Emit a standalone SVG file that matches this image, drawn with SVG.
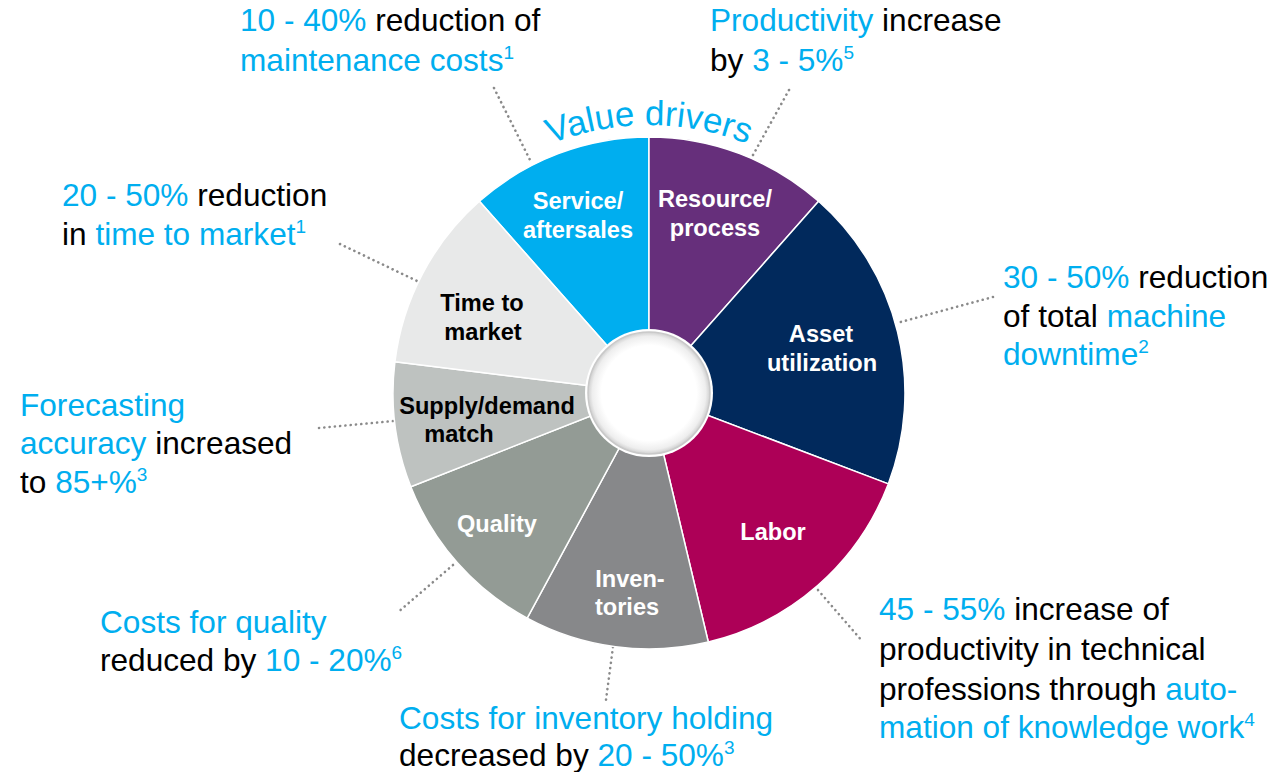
<svg xmlns="http://www.w3.org/2000/svg" width="1278" height="772" viewBox="0 0 1278 772">
<defs>
<style>
.ann{font-family:"Liberation Sans",Arial,sans-serif;font-size:31.6px;fill:#000}
.b{fill:#00AEEF}
.sup{font-size:19px}
.lbl{font-family:"Liberation Sans",Arial,sans-serif;font-size:23.6px;font-weight:bold;text-anchor:middle}
.w{fill:#fff}
.k{fill:#000}
.seg{stroke:#fff;stroke-width:1.5;stroke-linejoin:round}
.dot{stroke:#8a8a8a;stroke-width:2.6;stroke-linecap:round;stroke-dasharray:0.1 5.2;fill:none}
</style>
<radialGradient id="hole" cx="50%" cy="50%" r="50%">
<stop offset="0.78" stop-color="#ffffff"/>
<stop offset="0.93" stop-color="#eeeeee"/>
<stop offset="1" stop-color="#cfcfcf"/>
</radialGradient>
<path id="arcText" d="M 417 259 A 268 268 0 0 1 881 259"/>
</defs>
<rect width="1278" height="772" fill="#fff"/>

<g id="connectors">
<line class="dot" x1="494" y1="88" x2="531" y2="162"/>
<line class="dot" x1="789" y1="90" x2="753" y2="155"/>
<line class="dot" x1="340" y1="244" x2="417" y2="281"/>
<line class="dot" x1="993" y1="297" x2="897" y2="323"/>
<line class="dot" x1="319" y1="428" x2="393" y2="421"/>
<line class="dot" x1="453" y1="565" x2="397" y2="613"/>
<line class="dot" x1="613" y1="647" x2="606" y2="700"/>
<line class="dot" x1="818" y1="590" x2="863" y2="642"/>
</g>

<g id="seg-service"><path class="seg" fill="#00AEEF" d="M649 393 L479.4 201.3 A256 256 0 0 1 649 137 Z"/>
<text class="lbl w" x="578" y="209">Service/</text><text class="lbl w" x="578" y="238">aftersales</text></g>
<g id="seg-resource"><path class="seg" fill="#662F7B" d="M649 393 L649 137 A256 256 0 0 1 818.6 201.3 Z"/>
<text class="lbl w" x="715" y="207">Resource/</text><text class="lbl w" x="715" y="236">process</text></g>
<g id="seg-asset"><path class="seg" fill="#01295C" d="M649 393 L818.6 201.3 A256 256 0 0 1 888.3 483.9 Z"/>
<text class="lbl w" x="821" y="342">Asset</text><text class="lbl w" x="822" y="371">utilization</text></g>
<g id="seg-labor"><path class="seg" fill="#AD0057" d="M649 393 L888.3 483.9 A256 256 0 0 1 708.3 642 Z"/>
<text class="lbl w" x="773" y="540">Labor</text></g>
<g id="seg-inventories"><path class="seg" fill="#87888A" d="M649 393 L708.3 642 A256 256 0 0 1 527.2 618.2 Z"/>
<text class="lbl w" x="630" y="587">Inven-</text><text class="lbl w" x="627" y="615">tories</text></g>
<g id="seg-quality"><path class="seg" fill="#939B95" d="M649 393 L527.2 618.2 A256 256 0 0 1 410.8 486.8 Z"/>
<text class="lbl w" x="497" y="532">Quality</text></g>
<g id="seg-supply"><path class="seg" fill="#BEC2C0" d="M649 393 L410.8 486.8 A256 256 0 0 1 394.9 361.8 Z"/>
<text class="lbl k" x="487" y="414">Supply/demand</text><text class="lbl k" x="459" y="442">match</text></g>
<g id="seg-time"><path class="seg" fill="#E8E9E9" d="M649 393 L394.9 361.8 A256 256 0 0 1 479.4 201.3 Z"/>
<text class="lbl k" x="482" y="311">Time to</text><text class="lbl k" x="483" y="340">market</text></g>

<g id="hub">
<circle cx="649" cy="393" r="64" fill="#fff"/>
<circle cx="649" cy="393" r="61" fill="url(#hole)" stroke="#c9c9c9" stroke-width="1.5"/>
</g>

<g id="title">
<text font-family="Liberation Sans, Arial, sans-serif" font-size="35" fill="#00AEEF"><textPath href="#arcText" startOffset="50%" text-anchor="middle">Value drivers</textPath></text>
</g>

<g id="ann-service">
<text class="ann" x="240" y="31"><tspan class="b">10 - 40%</tspan> reduction of</text>
<text class="ann b" x="240" y="71">maintenance costs<tspan class="sup" dy="-12">1</tspan></text>
</g>
<g id="ann-resource">
<text class="ann" x="710" y="31"><tspan class="b">Productivity</tspan> increase</text>
<text class="ann" x="710" y="71">by <tspan class="b">3 - 5%</tspan><tspan class="b sup" dy="-12">5</tspan></text>
</g>
<g id="ann-time">
<text class="ann" x="62" y="206"><tspan class="b">20 - 50%</tspan> reduction</text>
<text class="ann" x="62" y="245">in <tspan class="b">time to market</tspan><tspan class="b sup" dy="-12">1</tspan></text>
</g>
<g id="ann-asset">
<text class="ann" x="1003" y="288"><tspan class="b">30 - 50%</tspan> reduction</text>
<text class="ann" x="1003" y="327">of total <tspan class="b">machine</tspan></text>
<text class="ann b" x="1003" y="365">downtime<tspan class="sup" dy="-12">2</tspan></text>
</g>
<g id="ann-supply">
<text class="ann b" x="20" y="416">Forecasting</text>
<text class="ann" x="20" y="454"><tspan class="b">accuracy</tspan> increased</text>
<text class="ann" x="20" y="493">to <tspan class="b">85+%</tspan><tspan class="b sup" dy="-12">3</tspan></text>
</g>
<g id="ann-quality">
<text class="ann b" x="100" y="633">Costs for quality</text>
<text class="ann" x="100" y="671">reduced by <tspan class="b">10 - 20%</tspan><tspan class="b sup" dy="-12">6</tspan></text>
</g>
<g id="ann-inventories">
<text class="ann b" x="399" y="729">Costs for inventory holding</text>
<text class="ann" x="399" y="766">decreased by <tspan class="b">20 - 50%</tspan><tspan class="b sup" dy="-12">3</tspan></text>
</g>
<g id="ann-labor">
<text class="ann" x="879" y="620"><tspan class="b">45 - 55%</tspan> increase of</text>
<text class="ann" x="879" y="660">productivity in technical</text>
<text class="ann" x="879" y="700">professions through <tspan class="b">auto-</tspan></text>
<text class="ann b" x="879" y="738">mation of knowledge work<tspan class="sup" dy="-12">4</tspan></text>
</g>
</svg>
